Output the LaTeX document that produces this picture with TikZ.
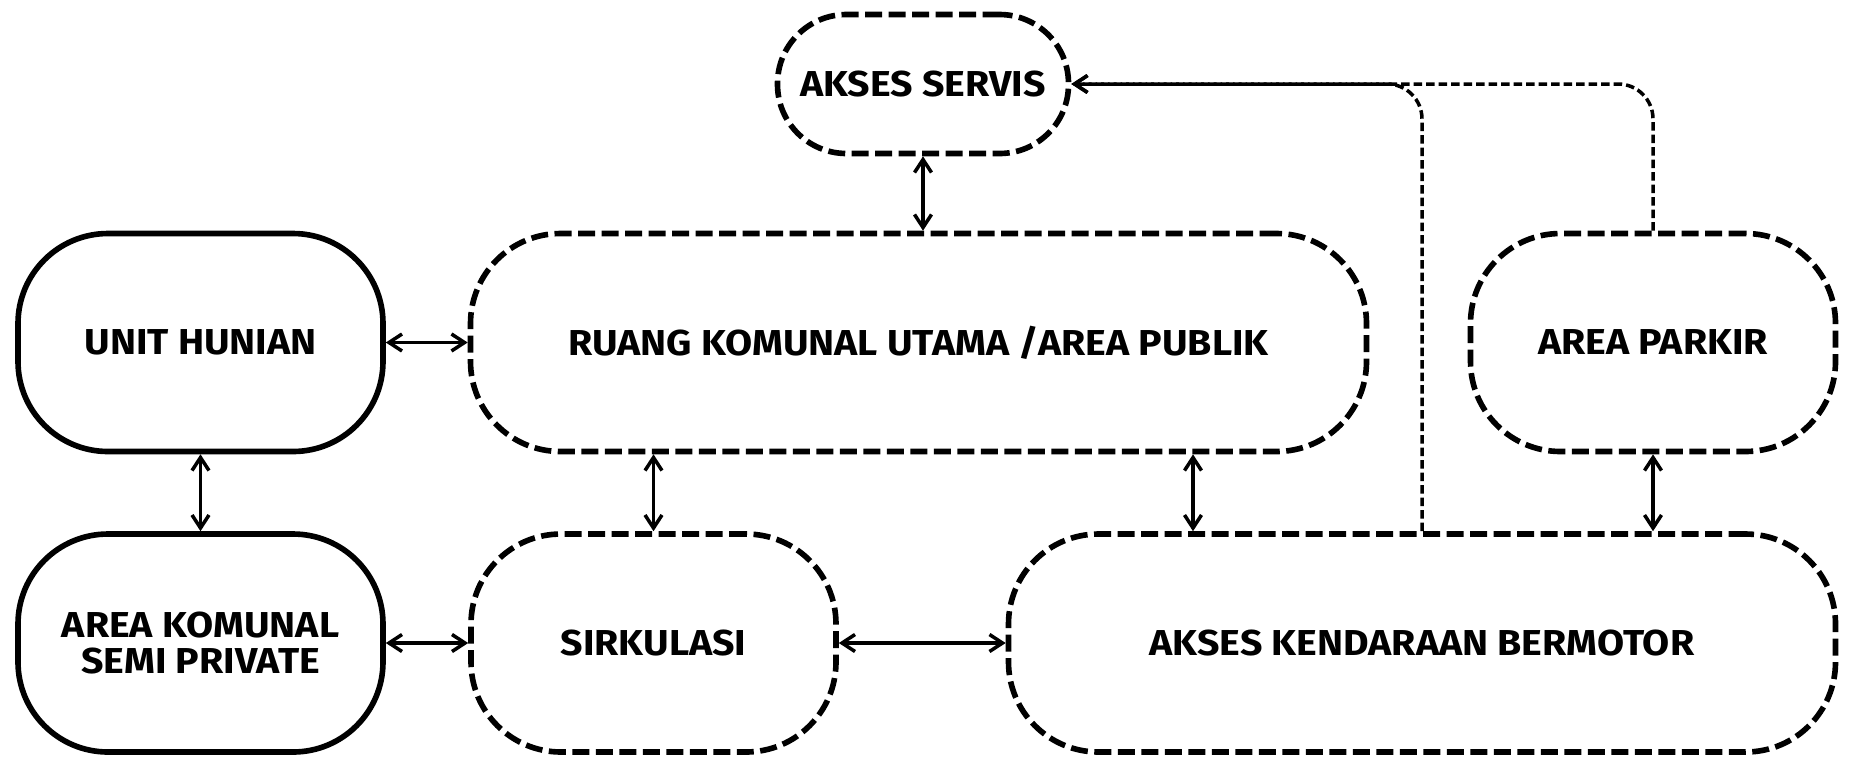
\documentclass[tikz,border=0pt]{standalone}
\usepackage{fontspec}
\setmainfont{Fira Sans}[FakeStretch=1.09]
\usetikzlibrary{arrows.meta, positioning}

\begin{document}
\begin{tikzpicture}

\tikzset{box/.style = {shape=rectangle, draw, line width=3.2pt, rounded corners=1.8cm,
  minimum width=7.3cm, minimum height=4.36cm, align=center,
  font=\bfseries\fontsize{20.5}{20}\selectfont}}
\tikzset{dbox/.style = {box, dash pattern=on 0.34cm off 0.13cm}}
\tikzset{arr/.style = {{Straight Barb[length=2.6mm,width=3.4mm]}-{Straight Barb[length=2.6mm,width=3.4mm]}, line width=2pt}}
\tikzset{link/.style = {line width=2pt, dash pattern=on 0.17cm off 0.08cm, rounded corners=0.7cm}}
\useasboundingbox (0,0) rectangle (36.98,-15.14);
% vertices
\node[box] (unit) at (4.01,-6.85) {UNIT HUNIAN};
\node[box] (semi) at (4.01,-12.86) {AREA KOMUNAL\\SEMI PRIVATE};
\node[dbox, minimum width=17.92cm] (ruang) at (18.37,-6.85) {RUANG KOMUNAL UTAMA /AREA PUBLIK};
\node[dbox] (sirk) at (13.07,-12.86) {SIRKULASI};
\node[dbox, minimum width=16.54cm] (kend) at (28.44,-12.86) {AKSES KENDARAAN BERMOTOR};
\node[dbox] (parkir) at (33.06,-6.85) {AREA PARKIR};
\node[dbox, minimum width=5.82cm, minimum height=2.78cm, rounded corners=1.38cm] (servis) at (18.46,-1.68) {AKSES SERVIS};
%edges
\draw[arr] (servis.south) -- (servis.south |- ruang.north);
\draw[arr] (unit.east) -- (ruang.west);
\draw[arr] (unit.south) -- (semi.north);
\draw[arr] (semi.east) -- (sirk.west);
\draw[arr] (sirk.east) -- (kend.west);
\draw[arr] (sirk.north |- ruang.south) -- (sirk.north);
\draw[arr] ([xshift=-4.58cm]kend.north |- ruang.south) -- ([xshift=-4.58cm]kend.north);
\draw[arr] (parkir.south) -- (parkir.south |- kend.north);
\draw[link, -{Straight Barb[length=2.6mm,width=3.4mm]}] (kend.north) -- (kend.north |- servis.east) -- (servis.east);
\draw[link, -{Straight Barb[length=2.6mm,width=3.4mm]}] (parkir.north) -- (parkir.north |- servis.east) -- (servis.east);
\end{tikzpicture}
\end{document}
